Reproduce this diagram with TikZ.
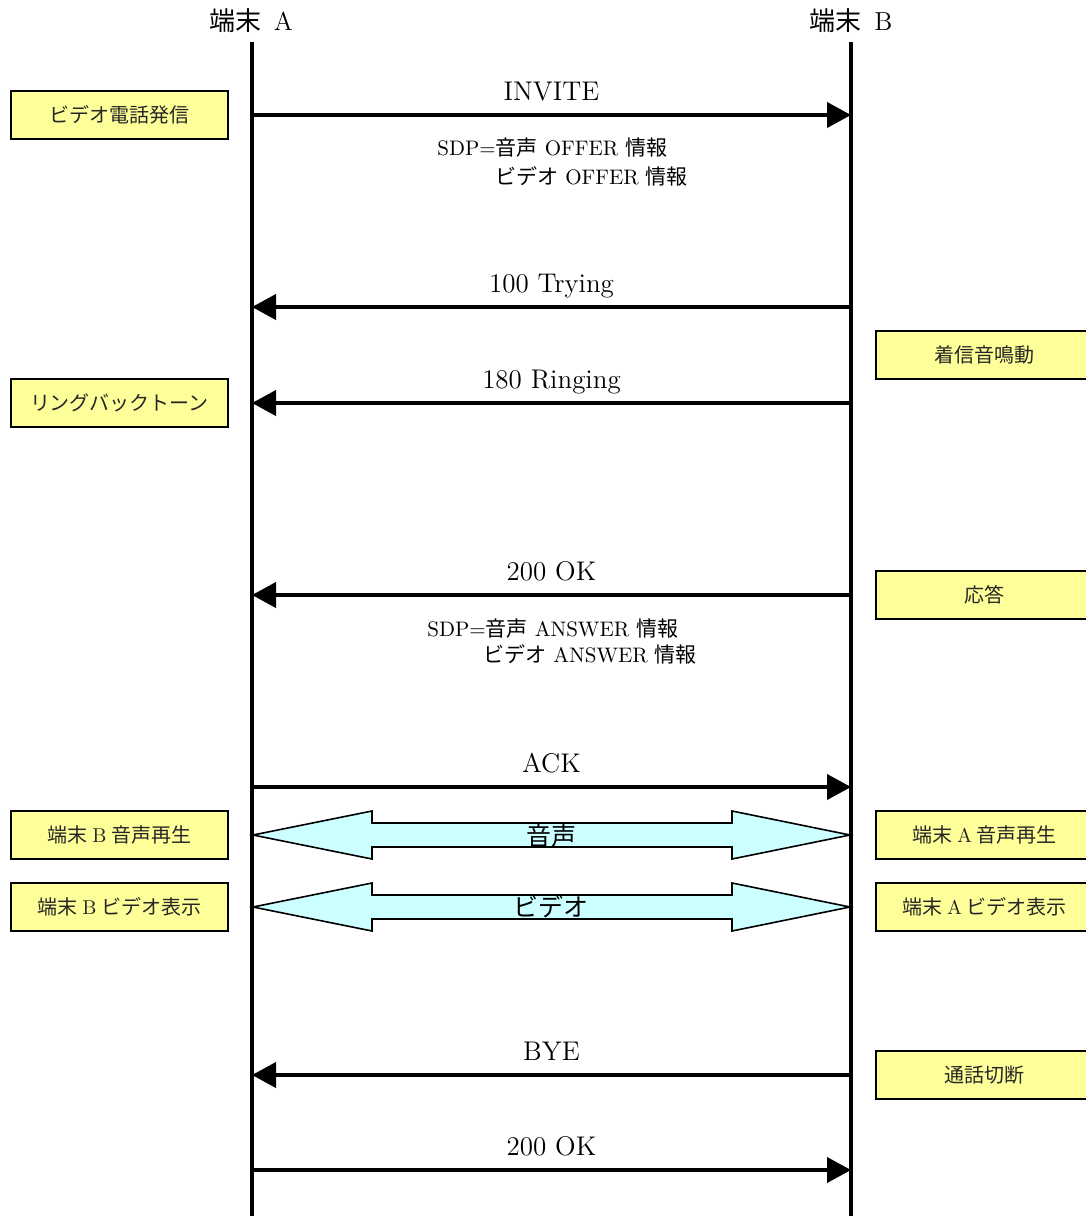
\documentclass[tikz,border=0pt]{standalone}
\usepackage{fontspec}
\newfontfamily\jp{Noto Sans CJK JP}
\usetikzlibrary{positioning, arrows.meta}
\definecolor{noteyellow}{HTML}{FFFF99}
\definecolor{mediacyan}{HTML}{CCFFFF}

\begin{document}
\begin{tikzpicture}[
    x=0.5pt, y=-0.5pt,
    lifeline/.style={line width=2pt},
    msg/.style={line width=2pt, -{Triangle[length=12pt, width=12.5pt]}},
    msglbl/.style={above=6.5pt, inner sep=0pt, text depth=0pt,
      font=\fontsize{13.5}{16}\selectfont},
    hdr/.style={inner sep=0pt, font=\fontsize{13}{15}\selectfont},
    sdp/.style={anchor=base west, inner sep=0pt,
      font=\fontsize{10.5}{13}\selectfont},
    note/.style={draw, line width=1pt, fill=noteyellow, minimum width=108.5pt,
      minimum height=24pt, inner sep=0pt, text=black!85,
      font=\jp\fontsize{10}{12}\selectfont},
    media/.style={draw, line width=0.8pt, fill=mediacyan},
    medialbl/.style={inner sep=0pt, font=\jp\fontsize{12.5}{14}\selectfont}
  ]
    \useasboundingbox (0,0) rectangle (1086,1216);

    % terminals
    \node[hdr] (hdrA) at (251,21) {{\jp 端末}\, A};
    \node[hdr] (hdrB) at (851,21) {{\jp 端末}\, B};
    \coordinate (aTop) at (252,42);
    \coordinate (aBot) at (252,1216);
    \coordinate (bTop) at (851,42);
    \coordinate (bBot) at (851,1216);

    % message end points
    \coordinate (aInv) at (252,115);   \coordinate (bInv) at (851,115);
    \coordinate (aTry) at (252,307);   \coordinate (bTry) at (851,307);
    \coordinate (aRing) at (252,403);  \coordinate (bRing) at (851,403);
    \coordinate (aOk) at (252,595);    \coordinate (bOk) at (851,595);
    \coordinate (aAck) at (252,787);   \coordinate (bAck) at (851,787);
    \coordinate (aBye) at (252,1075);  \coordinate (bBye) at (851,1075);
    \coordinate (aOk2) at (252,1170);  \coordinate (bOk2) at (851,1170);
    \coordinate (aVoice) at (253,835);  \coordinate (bVoice) at (850,835);
    \coordinate (aVideo) at (253,907);  \coordinate (bVideo) at (850,907);

    % media streams
    \draw[media] (aVoice) -- ++(119,-24) -- ++(0,12) -- ++(360,0) -- ++(0,-12)
      -- (bVoice) -- ++(-118,24) -- ++(0,-12) -- ++(-360,0) -- ++(0,12) -- cycle;
    \draw[media] (aVideo) -- ++(119,-24) -- ++(0,12) -- ++(360,0) -- ++(0,-12)
      -- (bVideo) -- ++(-118,24) -- ++(0,-12) -- ++(-360,0) -- ++(0,12) -- cycle;
    \node[medialbl] (voicelbl) at (551,836) {音声};
    \node[medialbl] (videolbl) at (551,907) {ビデオ};

    \draw[lifeline] (aTop) -- (aBot);
    \draw[lifeline] (bTop) -- (bBot);

    % SIP messages
    \draw[msg] (aInv) -- (bInv) node[msglbl, midway] (invite) {INVITE};
    \draw[msg] (bTry) -- (aTry) node[msglbl, midway] (trying) {100 Trying};
    \draw[msg] (bRing) -- (aRing) node[msglbl, midway] (ringing) {180 Ringing};
    \draw[msg] (bOk) -- (aOk) node[msglbl, midway] (ok) {200 OK};
    \draw[msg] (aAck) -- (bAck) node[msglbl, midway] (ack) {ACK};
    \draw[msg] (bBye) -- (aBye) node[msglbl, midway] (bye) {BYE};
    \draw[msg] (aOk2) -- (bOk2) node[msglbl, midway] (okbye) {200 OK};

    \node[sdp] (offer1) at (437,155) {SDP={\jp 音声} OFFER {\jp 情報}};
    \node[sdp] (offer2) at (495,184) {{\jp ビデオ} OFFER {\jp 情報}};
    \node[sdp] (answer1) at (427,636) {SDP={\jp 音声} ANSWER {\jp 情報}};
    \node[sdp] (answer2) at (483,662) {{\jp ビデオ} ANSWER {\jp 情報}};

    % terminal events
    \node[note] (callbox) at (119.5,115) {ビデオ電話発信};
    \node[note] (rbtbox) at (119.5,403) {リングバックトーン};
    \node[note] (voiceB) at (119.5,835) {端末 {\rmfamily B} 音声再生};
    \node[note] (videoB) at (119.5,907) {端末 {\rmfamily B} ビデオ表示};
    \node[note] (ringbox) at (984.5,355) {着信音鳴動};
    \node[note] (answerbox) at (984.5,595) {応答};
    \node[note] (voiceA) at (984.5,835) {端末 {\rmfamily A} 音声再生};
    \node[note] (videoA) at (984.5,907) {端末 {\rmfamily A} ビデオ表示};
    \node[note] (byebox) at (984.5,1075) {通話切断};
  \end{tikzpicture}
\end{document}
